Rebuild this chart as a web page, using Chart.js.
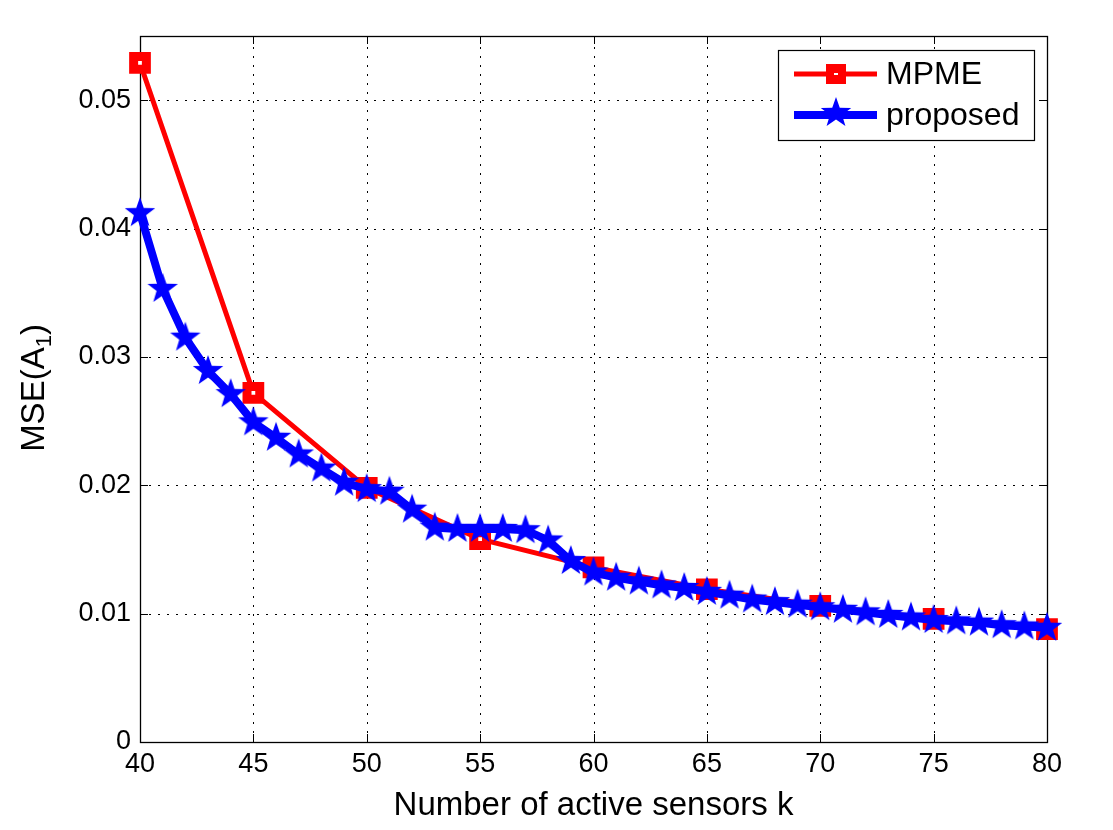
<!DOCTYPE html>
<html>
<head>
<meta charset="utf-8">
<script src="https://cdn.jsdelivr.net/npm/chart.js@4"></script>
<style>
html,body{margin:0;padding:0;background:#fff;}
#wrap{width:1113px;height:830px;position:relative;}
</style>
</head>
<body>
<div id="wrap"><canvas id="c" width="1113" height="830"></canvas></div>
<script>
// ---- data ----
const mpmeK = [40, 45, 50, 55, 60, 65, 70, 75, 80];
const mpmeMSE = [0.0529, 0.0272, 0.0198, 0.0158, 0.0136, 0.0119, 0.0106, 0.0096, 0.0088];
const proposedK = [40,41,42,43,44,45,46,47,48,49,50,51,52,53,54,55,56,57,58,59,60,61,62,63,64,65,66,67,68,69,70,71,72,73,74,75,76,77,78,79,80];
const proposedMSE = [0.0412,0.0353,0.0315,0.0289,0.0271,0.0249,0.0237,0.0224,0.0213,0.0202,0.0197,0.0195,0.0181,0.0167,0.0166,0.0166,0.0166,0.0165,0.0157,0.0141,0.0132,0.0128,0.0125,0.0122,0.0120,0.0117,0.0114,0.0111,0.0109,0.0107,0.0105,0.0103,0.0101,0.0099,0.0097,0.0095,0.0094,0.0093,0.0091,0.0090,0.0089];
const xTicks = [40,45,50,55,60,65,70,75,80];
const yTicks = [0,0.01,0.02,0.03,0.04,0.05];
const seriesNames = ['MPME', 'proposed'];
const xTitle = 'Number of active sensors k';

const FONT = 'Arial, "Liberation Sans", Helvetica, sans-serif';

// star marker image
function makeStar(color, R) {
  const s = Math.ceil(R * 2 + 4);
  const cv = document.createElement('canvas');
  cv.width = s; cv.height = s;
  const g = cv.getContext('2d');
  const cx = s / 2, cy = s / 2, r = R * 0.40;
  g.beginPath();
  for (let i = 0; i < 10; i++) {
    const ang = -Math.PI / 2 + i * Math.PI / 5;
    const rr = i % 2 === 0 ? R : r;
    const px = cx + rr * Math.cos(ang), py = cy + rr * Math.sin(ang);
    if (i === 0) g.moveTo(px, py); else g.lineTo(px, py);
  }
  g.closePath();
  g.fillStyle = color;
  g.fill();
  return cv;
}
const starImg = makeStar('#0000ff', 16);

const frame = {
  id: 'frame',
  beforeDatasetsDraw(chart) {
    const {ctx, chartArea: a, scales: {x, y}} = chart;
    ctx.save();
    ctx.strokeStyle = '#000';
    ctx.lineWidth = 1;
    ctx.setLineDash([2, 7]);
    xTicks.forEach(v => {
      if (v === xTicks[0] || v === xTicks[xTicks.length - 1]) return;
      const px = Math.round(x.getPixelForValue(v)) + 0.5;
      ctx.beginPath(); ctx.moveTo(px, a.bottom); ctx.lineTo(px, a.top); ctx.stroke();
    });
    yTicks.forEach(v => {
      if (v === 0) return;
      const py = Math.round(y.getPixelForValue(v)) + 0.5;
      ctx.beginPath(); ctx.moveTo(a.left, py); ctx.lineTo(a.right, py); ctx.stroke();
    });
    ctx.setLineDash([]);
    ctx.lineWidth = 1.3;
    ctx.strokeRect(Math.round(a.left) + 0.5, Math.round(a.top) + 0.5, Math.round(a.right - a.left), Math.round(a.bottom - a.top));
    const L = 8;
    ctx.lineWidth = 1;
    xTicks.forEach(v => {
      const px = Math.round(x.getPixelForValue(v)) + 0.5;
      ctx.beginPath();
      ctx.moveTo(px, a.bottom); ctx.lineTo(px, a.bottom - L);
      ctx.moveTo(px, a.top); ctx.lineTo(px, a.top + L);
      ctx.stroke();
    });
    yTicks.forEach(v => {
      const py = Math.round(y.getPixelForValue(v)) + 0.5;
      ctx.beginPath();
      ctx.moveTo(a.left, py); ctx.lineTo(a.left + L, py);
      ctx.moveTo(a.right, py); ctx.lineTo(a.right - L, py);
      ctx.stroke();
    });
    ctx.restore();
  },
  afterDatasetsDraw(chart) {
    const {ctx, chartArea: a} = chart;
    ctx.save();
    // y-axis title with subscript
    ctx.fillStyle = '#000';
    ctx.translate(44, 388);
    ctx.rotate(-Math.PI / 2);
    ctx.textBaseline = 'alphabetic';
    const t1 = 'MSE(A', t3 = ')';
    const big = '33px ' + FONT, small = '22px ' + FONT;
    ctx.font = big;
    const w1 = ctx.measureText(t1).width;
    ctx.font = small;
    const w2 = ctx.measureText('1').width;
    ctx.font = big;
    const w3 = ctx.measureText(t3).width;
    const total = w1 + w2 + w3;
    let sx = -total / 2;
    ctx.fillText(t1, sx, 0); sx += w1;
    ctx.font = small;
    ctx.fillText('1', sx, 7); sx += w2;
    ctx.font = big;
    ctx.fillText(t3, sx, 0);
    ctx.restore();

    // legend
    ctx.save();
    const bx = 778.5, by = 50.5, bw = 256, bh = 90;
    ctx.fillStyle = '#fff';
    ctx.fillRect(bx, by, bw, bh);
    ctx.strokeStyle = '#000';
    ctx.lineWidth = 1.2;
    ctx.strokeRect(bx, by, bw, bh);
    // MPME
    let ly = 74;
    ctx.strokeStyle = '#ff0000';
    ctx.lineWidth = 5;
    ctx.beginPath(); ctx.moveTo(794, ly); ctx.lineTo(877, ly); ctx.stroke();
    ctx.fillStyle = '#ff0000';
    ctx.fillRect(826, ly - 10, 20, 20);
    ctx.fillStyle = '#fff';
    ctx.fillRect(834, ly - 1, 4, 2);
    ctx.fillStyle = '#000';
    ctx.font = '32px ' + FONT;
    ctx.textBaseline = 'middle';
    ctx.fillText(seriesNames[0], 886, ly + 1);
    // proposed
    ly = 115;
    ctx.strokeStyle = '#0000ff';
    ctx.lineWidth = 8;
    ctx.beginPath(); ctx.moveTo(794, ly); ctx.lineTo(877, ly); ctx.stroke();
    ctx.drawImage(starImg, 836 - starImg.width / 2, ly - 2 - starImg.height / 2);
    ctx.fillStyle = '#000';
    ctx.fillText(seriesNames[1], 886, ly + 1);
    ctx.restore();
  }
};

const chart = new Chart(document.getElementById('c'), {
  type: 'line',
  data: {
    datasets: [
      {
        label: seriesNames[0],
        data: mpmeK.map((k, i) => ({x: k, y: mpmeMSE[i]})),
        borderColor: '#ff0000',
        borderWidth: 5,
        backgroundColor: '#ffffff',
        pointStyle: 'rect',
        pointRadius: 9,
        pointBorderWidth: 9,
        pointBorderColor: '#ff0000',
        pointBackgroundColor: '#ffffff',
        tension: 0,
        clip: false,
        order: 2
      },
      {
        label: seriesNames[1],
        data: proposedK.map((k, i) => ({x: k, y: proposedMSE[i]})),
        borderColor: '#0000ff',
        borderWidth: 8,
        pointStyle: starImg,
        pointRadius: 16,
        tension: 0,
        clip: false,
        order: 1
      }
    ]
  },
  options: {
    responsive: false,
    animation: false,
    devicePixelRatio: 1,
    layout: {padding: {top: 36, right: 66, left: 0, bottom: 0}},
    plugins: {legend: {display: false}, tooltip: {enabled: false}},
    scales: {
      x: {
        type: 'linear', min: 40, max: 80,
        afterBuildTicks(s) { s.ticks = xTicks.map(v => ({value: v})); },
        afterFit(s) { s.height = 88; },
        grid: {display: false, drawTicks: false},
        border: {display: false},
        ticks: {color: '#000', font: {size: 27, family: FONT}, padding: 6, maxRotation: 0},
        title: {display: true, text: xTitle, color: '#000', font: {size: 33, family: FONT}, padding: {top: 0, bottom: 4}}
      },
      y: {
        type: 'linear', min: 0, max: 0.055,
        afterBuildTicks(s) { s.ticks = yTicks.map(v => ({value: v})); },
        afterFit(s) { s.width = 140; },
        grid: {display: false, drawTicks: false},
        border: {display: false},
        ticks: {color: '#000', font: {size: 27, family: FONT}, padding: 9,
          callback: v => v === 0 ? '0' : v.toFixed(2)}
      }
    }
  },
  plugins: [frame]
});
</script>
</body>
</html>
